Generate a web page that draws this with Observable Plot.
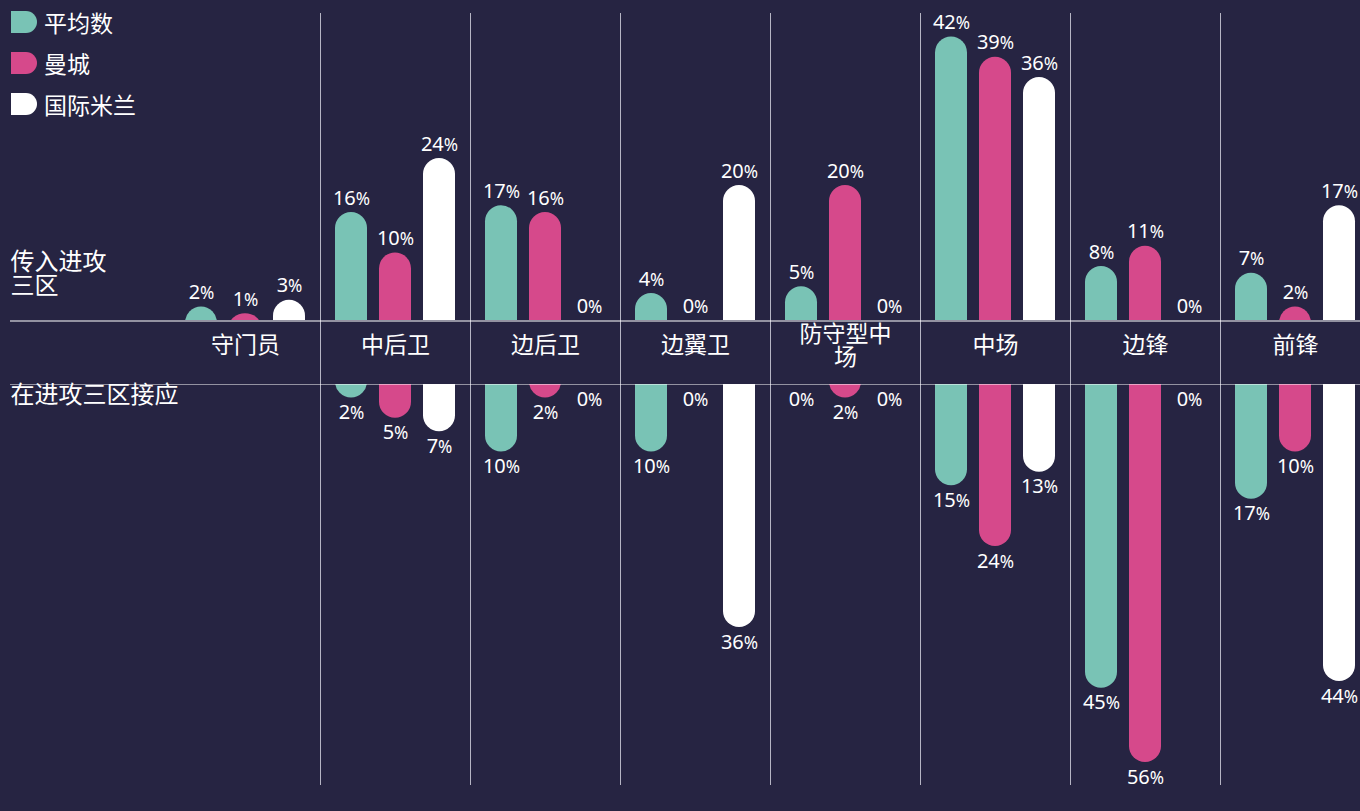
<!DOCTYPE html>
<html>
<head>
<meta charset="utf-8">
<script src="https://cdn.jsdelivr.net/npm/d3@7"></script>
<script src="https://cdn.jsdelivr.net/npm/@observablehq/plot@0.6"></script>
<style>
  html, body { margin: 0; padding: 0; background: #262442; overflow: hidden; }
  #wrap { position: relative; width: 1360px; height: 811px; background: #262442;
          font-family: "Noto Sans", "Noto Sans CJK SC", sans-serif; }
  #wrap > div.p { position: absolute; left: 0; }
  #legend { position: absolute; left: 11px; top: 1px; color: #fff; font-size: 23px; }
  #legend .item { display: flex; align-items: center; height: 41px; }
  #legend .sw { width: 26px; height: 22px; border-radius: 0 11px 11px 0; margin-right: 7px; }
</style>
</head>
<body>
<div id="wrap">
  <div class="p" id="top" style="top:0"></div>
  <div class="p" id="bottom" style="top:364px"></div>
  <div class="p" id="band" style="top:300px"></div>
  <div id="legend"></div>
</div>
<script>
// ---- data ----
const categories = ["守门员", "中后卫", "边后卫", "边翼卫", "防守型中场", "中场", "边锋", "前锋"];
const categoryLabels = ["守门员", "中后卫", "边后卫", "边翼卫", "防守型中\n场", "中场", "边锋", "前锋"];
const series = ["平均数", "曼城", "国际米兰"];
const colors = ["#79c3b5", "#d6498b", "#ffffff"];
const rowLabelTop = "传入进攻\n三区";
const rowLabelBottom = "在进攻三区接应";

// 传入进攻三区 (passes into final third)
const avgInto   = [2, 16, 17, 4, 5, 42, 8, 7];
const mciInto   = [1, 10, 16, 0, 20, 39, 11, 2];
const interInto = [3, 24, 0, 20, 0, 36, 0, 17];
// 在进攻三区接应 (receptions in final third)
const avgRecv   = [null, 2, 10, 10, 0, 15, 45, 17];
const mciRecv   = [null, 5, 2, 0, 2, 24, 56, 10];
const interRecv = [null, 7, 0, 36, 0, 13, 0, 44];

// ---- build tables ----
function rows(arrs) {
  const out = [];
  arrs.forEach((arr, j) => arr.forEach((v, i) => out.push({cat: categories[i], series: series[j], s: j, value: v})));
  return out.filter(d => d.value != null);
}
const topRows = rows([avgInto, mciInto, interInto]);
const bottomRows = rows([avgRecv, mciRecv, interRecv]);

// ---- styles ----
const W = 1360, PX = 6.75;
const lineColor = "#b6b5c4";
const insL = [15, 59, 103], insR = [103, 59, 15], dxs = [-44, 0, 44];
const font = '"Noto Sans", "Noto Sans CJK SC", sans-serif';
const xScale = {type: "band", domain: categories, range: [170, 1370], padding: 0, axis: null};

function barMarks(data, dir) {
  const marks = [];
  series.forEach((s, j) => {
    const d = data.filter(r => r.s === j);
    marks.push(Plot.barY(d, {x: "cat", y1: () => -3, y2: "value", fill: colors[j], rx: 16, clip: true,
      insetLeft: insL[j], insetRight: insR[j]}));
  });
  series.forEach((s, j) => {
    const d = data.filter(r => r.s === j);
    marks.push(Plot.text(d, {x: "cat", y: "value", text: r => r.value + "%", dx: dxs[j],
      dy: dir === "up" ? -8 : 7, lineAnchor: dir === "up" ? "bottom" : "top",
      fill: "#ffffff", fontSize: 20}));
  });
  return marks;
}

const topPlot = Plot.plot({
  width: W, height: 320, marginTop: 13, marginBottom: 0, marginLeft: 10, marginRight: 0,
  x: xScale,
  y: {domain: [0, 307 / PX], range: [320, 13], axis: null},
  style: {background: "transparent", fontFamily: font},
  marks: [
    Plot.cell(categories.slice(1), {x: d => d, fill: lineColor, insetRight: 149}),
    ...barMarks(topRows, "up"),
    Plot.text([rowLabelTop], {frameAnchor: "bottom-left", textAnchor: "start", lineAnchor: "bottom",
      dy: -27, fill: "#ffffff", fontSize: 24, lineHeight: 0.97})
  ]
});

const bottomPlot = Plot.plot({
  width: W, height: 447, marginTop: 20, marginBottom: 26, marginLeft: 10, marginRight: 0,
  x: xScale,
  y: {domain: [0, 401 / PX], range: [20, 421], axis: null},
  style: {background: "transparent", fontFamily: font},
  marks: [
    Plot.cell(categories.slice(1), {x: d => d, fill: lineColor, insetRight: 149}),
    ...barMarks(bottomRows, "down"),
    Plot.text([rowLabelBottom], {frameAnchor: "top-left", textAnchor: "start", lineAnchor: "top",
      dy: 1, fill: "#ffffff", fontSize: 24})
  ]
});

const bandPlot = Plot.plot({
  width: W, height: 85, marginTop: 20, marginBottom: 0, marginLeft: 10, marginRight: 0,
  x: xScale,
  y: {domain: [0, 1], range: [20.5, 84.5], axis: null},
  style: {background: "transparent", fontFamily: font},
  marks: [
    Plot.cell(categories.slice(1), {x: d => d, fill: lineColor, insetRight: 149}),
    Plot.ruleY([0, 1], {stroke: "#ffffff", strokeWidth: 1.2}),
    Plot.text(categories, {x: d => d, y: () => 0.39, text: (d, i) => categoryLabels[i],
      fill: "#ffffff", fontSize: 23, lineHeight: 1.0})
  ]
});

document.getElementById("top").appendChild(topPlot);
document.getElementById("bottom").appendChild(bottomPlot);
document.getElementById("band").appendChild(bandPlot);

// smaller percent sign
const NS = "http://www.w3.org/2000/svg";
document.querySelectorAll("#wrap svg text, #wrap svg tspan").forEach(t => {
  if (t.children.length === 0 && /^\d+%$/.test(t.textContent)) {
    const n = t.textContent.slice(0, -1);
    t.textContent = n;
    const ts = document.createElementNS(NS, "tspan");
    ts.setAttribute("font-size", "0.86em");
    ts.textContent = "%";
    t.appendChild(ts);
  }
});

// legend
const legend = document.getElementById("legend");
series.forEach((s, j) => {
  const item = document.createElement("div");
  item.className = "item";
  const sw = document.createElement("div");
  sw.className = "sw";
  sw.style.background = colors[j];
  const lab = document.createElement("span");
  lab.textContent = s;
  item.appendChild(sw); item.appendChild(lab);
  legend.appendChild(item);
});
</script>
</body>
</html>
